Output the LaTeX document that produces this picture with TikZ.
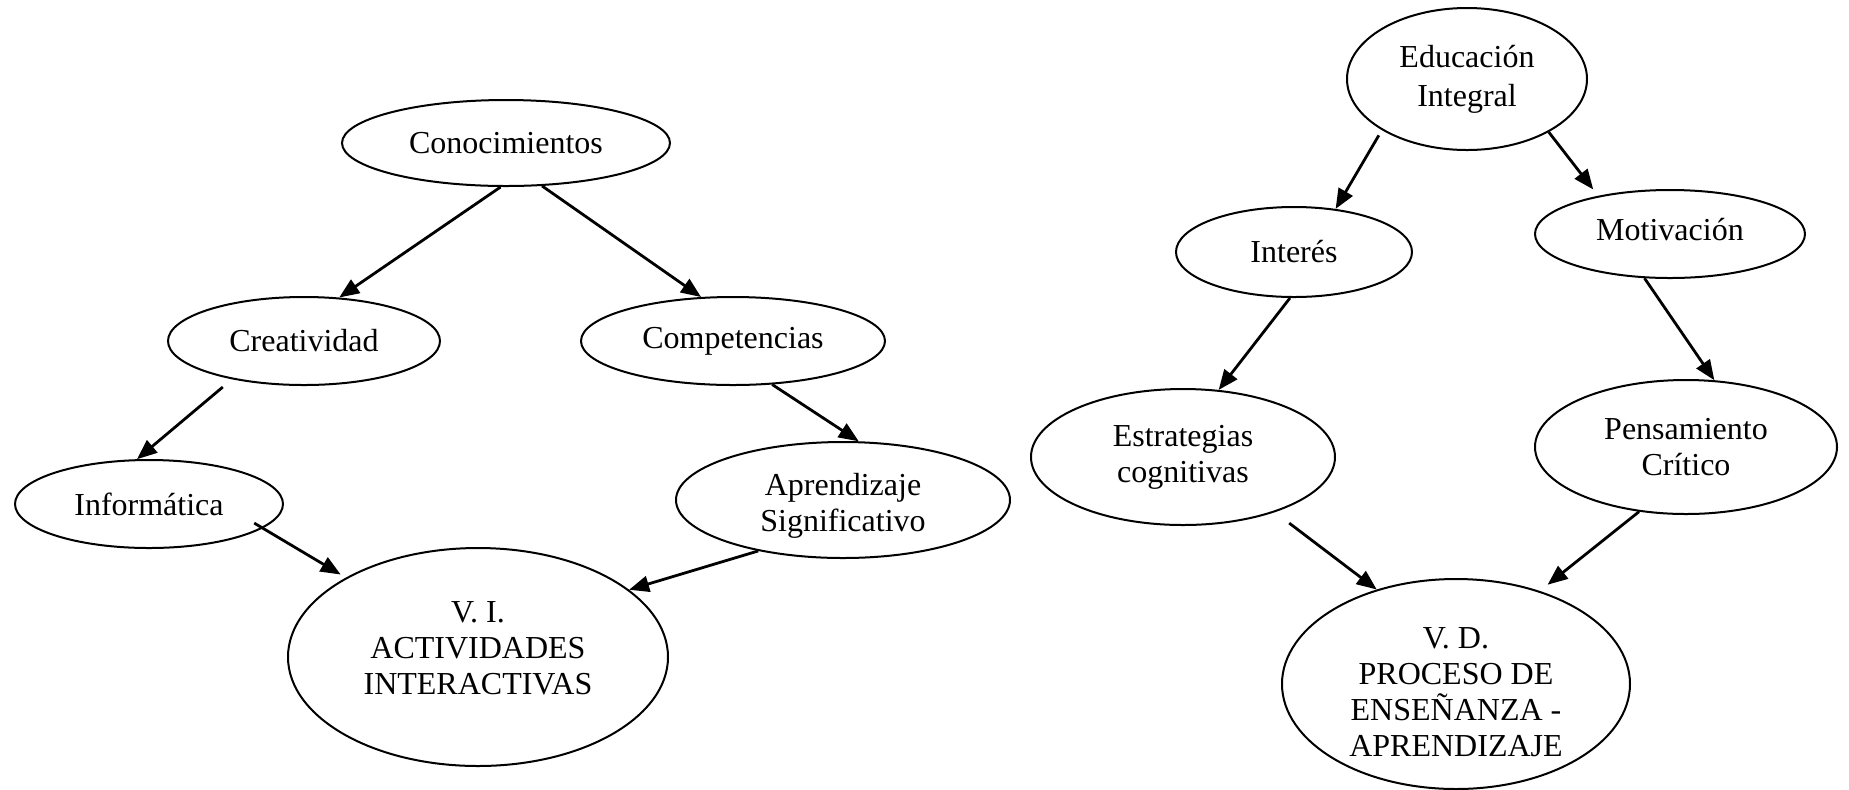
\documentclass[tikz,border=0pt]{standalone}
\usepackage{fontspec}
\setmainfont{Liberation Serif}
\usetikzlibrary{shapes.geometric,arrows.meta}
\begin{document}
\begin{tikzpicture}[x=0.5pt,y=-0.5pt,
  ell/.style={draw, ellipse, inner sep=0pt, line width=1pt, align=center, font=\fontsize{16}{18}\selectfont},
  lbl/.style={align=center, inner sep=0pt, font=\fontsize{16}{18}\selectfont},
  arr/.style={-{Triangle[length=10pt,width=8pt]}, line width=1.4pt},
]
\useasboundingbox (0,0) rectangle (1849,789);

% left diagram
\node[ell, minimum width=164pt, minimum height=43pt] (conoc) at (506,143) {Conocimientos};
\node[ell, minimum width=136pt, minimum height=44pt] (creat) at (304,341) {Creatividad};
\node[ell, minimum width=152pt, minimum height=44pt] (comp) at (733,341) {Competencias};
\node[ell, minimum width=134pt, minimum height=44pt] (info) at (149,504) {Informática};
\node[ell, minimum width=167pt, minimum height=58pt,
  label={[lbl, yshift=-3pt]center:{Aprendizaje\\Significativo}}] (apr) at (843,500) {};
\node[ell, minimum width=190pt, minimum height=109pt,
  label={[lbl, yshift=4.5pt]center:{V. I.\\ACTIVIDADES\\INTERACTIVAS}}] (vi) at (478,657) {};

% right diagram
\node[ell, minimum width=120pt, minimum height=71pt, font=\fontsize{16}{19.5}\selectfont] (edu) at (1467,79) {Educación\\Integral};
\node[ell, minimum width=118pt, minimum height=45pt] (int) at (1294,252) {Interés};
\node[ell, minimum width=135pt, minimum height=44pt,
  label={[lbl, yshift=2pt]center:{Motivación}}] (mot) at (1670,234) {};
\node[ell, minimum width=152pt, minimum height=68pt] (est) at (1183,457) {Estrategias\\cognitivas};
\node[ell, minimum width=151pt, minimum height=67pt] (pen) at (1686,447) {Pensamiento\\Crítico};
\node[ell, minimum width=174pt, minimum height=105pt,
  label={[lbl, yshift=-4pt]center:{V. D.\\PROCESO DE\\ENSEÑANZA -\\APRENDIZAJE}}] (vd) at (1456,684) {};

% connectors left
\draw[arr] (conoc.263) -- (creat.51);
\draw[arr] (conoc.310) -- (comp.126);
\draw[arr, shorten <=6pt] (creat.208) -- (info.105);
\draw[arr] (comp.312) -- (apr.75);
\draw[arr, shorten <=-5pt, shorten >=3pt] (info.348) -- (vi.149);
\draw[arr] (apr.211) -- (vi.24);

% connectors right
\draw[arr, shorten <=3pt] (edu.211) -- (int.46);
\draw[arr, shorten >=4pt] (edu.327) -- (mot.152);
\draw[arr] (int.265) -- (est.62);
\draw[arr] (mot.240) -- (pen.67);
\draw[arr, shorten <=9pt] (est.329) -- (vd.130);
\draw[arr, shorten >=5pt] (pen.234) -- (vd.48);
\end{tikzpicture}
\end{document}
